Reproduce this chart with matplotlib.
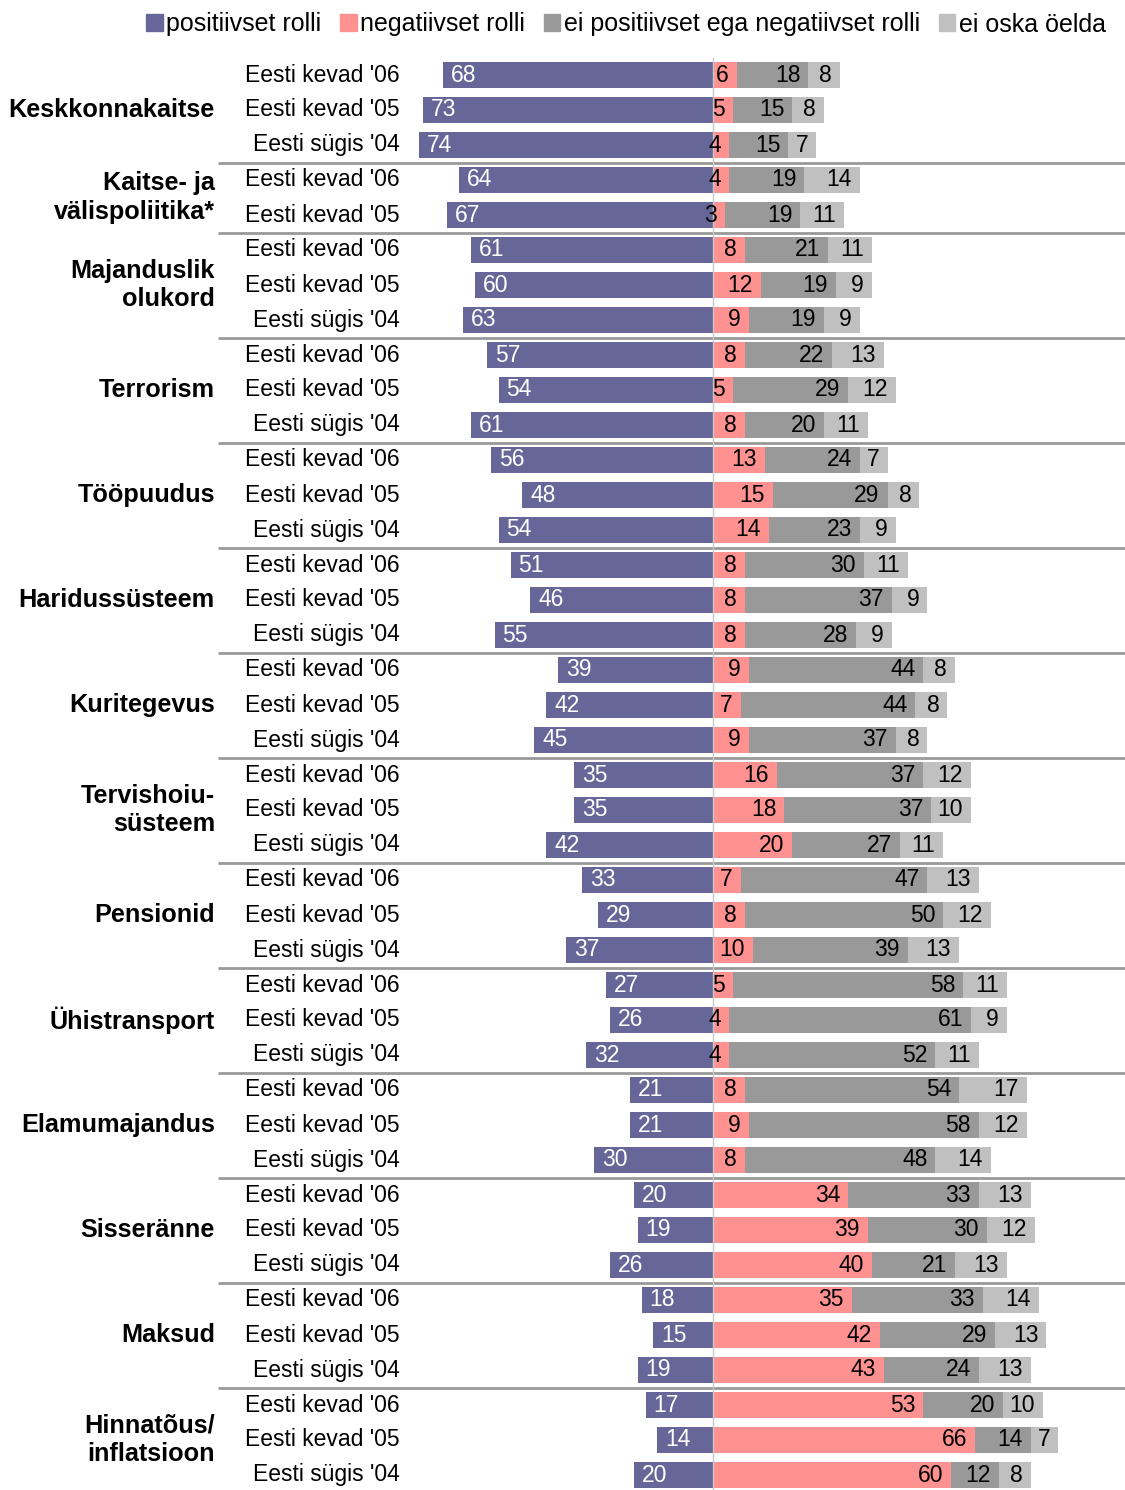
import matplotlib
matplotlib.use("Agg")
import matplotlib.pyplot as plt
from matplotlib.patches import Patch
from matplotlib import transforms

plt.rcParams['font.family'] = ['Liberation Sans', 'DejaVu Sans']

POS = "#666699"
NEG = "#ff9191"
MID = "#999999"
DK = "#c0c0c0"

topics = ["Keskkonnakaitse", "Kaitse- ja\nvälispoliitika*", "Majanduslik\nolukord", "Terrorism",
          "Tööpuudus", "Haridussüsteem", "Kuritegevus", "Tervishoiu-\nsüsteem", "Pensionid",
          "Ühistransport", "Elamumajandus", "Sisseränne", "Maksud", "Hinnatõus/\ninflatsioon"]
waves3 = ["Eesti kevad '06", "Eesti kevad '05", "Eesti sügis '04"]
waves = [waves3, waves3[:2]] + [waves3] * 12

positive = [[68, 73, 74], [64, 67], [61, 60, 63], [57, 54, 61], [56, 48, 54], [51, 46, 55],
            [39, 42, 45], [35, 35, 42], [33, 29, 37], [27, 26, 32], [21, 21, 30], [20, 19, 26],
            [18, 15, 19], [17, 14, 20]]
negative = [[6, 5, 4], [4, 3], [8, 12, 9], [8, 5, 8], [13, 15, 14], [8, 8, 8],
            [9, 7, 9], [16, 18, 20], [7, 8, 10], [5, 4, 4], [8, 9, 8], [34, 39, 40],
            [35, 42, 43], [53, 66, 60]]
neutral = [[18, 15, 15], [19, 19], [21, 19, 19], [22, 29, 20], [24, 29, 23], [30, 37, 28],
           [44, 44, 37], [37, 37, 27], [47, 50, 39], [58, 61, 52], [54, 58, 48], [33, 30, 21],
           [33, 29, 24], [20, 14, 12]]
dontknow = [[8, 8, 7], [14, 11], [11, 9, 9], [13, 12, 11], [7, 8, 9], [11, 9, 9],
            [8, 8, 8], [12, 10, 11], [13, 12, 13], [11, 9, 11], [17, 12, 14], [13, 12, 13],
            [14, 13, 13], [10, 7, 8]]

legend_labels = ["positiivset rolli", "negatiivset rolli", "ei positiivset ega negatiivset rolli", "ei oska öelda"]

W, H = 1125, 1490
fig = plt.figure(figsize=(W / 100, H / 100), dpi=100)
scale = 3.97  # px per percent
x0 = 713
ax_l, ax_r = 405, 1125
ax = fig.add_axes([ax_l / W, -2.5 / H, (ax_r - ax_l) / W, 1435 / H])
ax.set_xlim(-(x0 - ax_l) / scale, (ax_r - x0) / scale)
nrows = sum(len(w) for w in waves)
ax.set_ylim(nrows - 0.5, -0.5)
ax.axis("off")

pad = 2.0
bh = 0.75
fs = 16.5
lab = transforms.blended_transform_factory(fig.transFigure, ax.transData)

row = 0
for g, topic in enumerate(topics):
    start = row
    for k, wname in enumerate(waves[g]):
        p, n, m, d = positive[g][k], negative[g][k], neutral[g][k], dontknow[g][k]
        ax.barh(row, -p, height=bh, color=POS, lw=0)
        ax.barh(row, n, height=bh, color=NEG, lw=0)
        ax.barh(row, m, left=n, height=bh, color=MID, lw=0)
        ax.barh(row, d, left=n + m, height=bh, color=DK, lw=0)
        ax.text(-p + pad, row, str(p), color="white", ha="left", va="center", fontsize=fs)
        ax.text(n - pad, row, str(n), color="black", ha="right", va="center", fontsize=fs)
        ax.text(n + m - pad, row, str(m), color="black", ha="right", va="center", fontsize=fs)
        ax.text(n + m + d - pad, row, str(d), color="black", ha="right", va="center", fontsize=fs)
        ax.text(400 / W, row, wname, transform=lab, ha="right", va="center", fontsize=fs)
        row += 1
    ax.text(215 / W, (start + row - 1) / 2, topic, transform=lab, ha="right", va="center",
            fontsize=18.2, fontweight="bold", linespacing=1.25)
    if g < len(topics) - 1:
        ax.plot([218 / W, 1.0], [row - 0.5, row - 0.5], transform=lab, color="#999999",
                lw=2, clip_on=False, solid_capstyle="butt")

ax.axvline(0, color="#c8c8c8", lw=1, zorder=2)

handles = [Patch(color=c) for c in [POS, NEG, MID, DK]]
fig.legend(handles, legend_labels, loc="upper right", bbox_to_anchor=(0.994, 1.0), ncol=4,
           frameon=False, fontsize=18, handlelength=0.65, handleheight=0.65,
           handletextpad=0.15, columnspacing=0.75, borderaxespad=0.1)

fig.savefig("out.png", dpi=100)
